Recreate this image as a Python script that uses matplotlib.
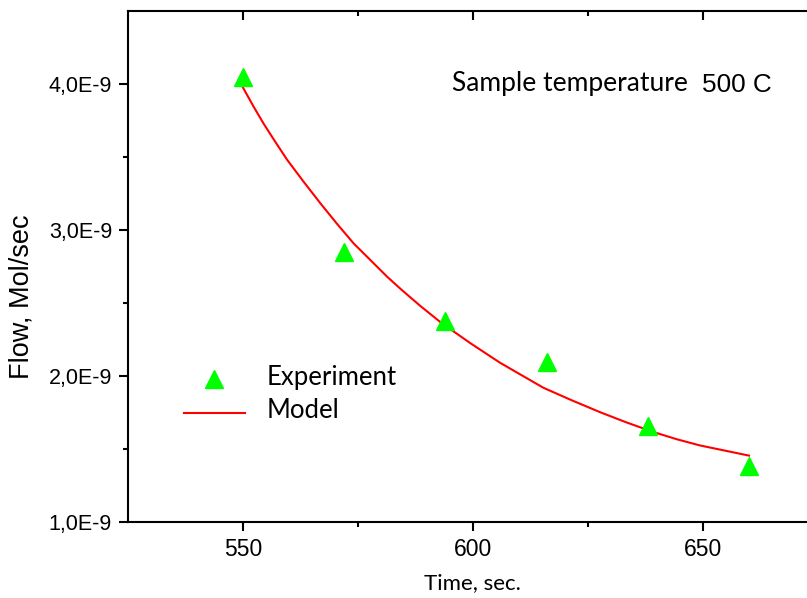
import matplotlib
matplotlib.use("Agg")
import matplotlib.pyplot as plt
from matplotlib.ticker import FixedLocator, FuncFormatter

# experiment points (time in sec, flow in 1e-9 mol/sec)
exp_time = [550, 572, 594, 616, 638, 660]
exp_flow = [4.05, 2.85, 2.375, 2.095, 1.655, 1.385]

# model curve
model_time = [550, 552.3, 554.5, 556.7, 559.6, 563.2, 566.8, 570.4, 574.0,
              577.7, 581.3, 584.2, 588.5, 592.9, 599.4, 605.9, 615.3, 621.4,
              627.6, 633.4, 639.2, 644.2, 649.3, 660]
model_flow = [3.977, 3.847, 3.729, 3.621, 3.482, 3.331, 3.185, 3.045, 2.911,
              2.795, 2.682, 2.599, 2.482, 2.370, 2.226, 2.091, 1.92, 1.835,
              1.753, 1.682, 1.617, 1.568, 1.525, 1.455]

x_ticks = [550, 600, 650]
y_ticks = [1.0, 2.0, 3.0, 4.0]

W, H = 807, 598
fig = plt.figure(figsize=(W / 100, H / 100), dpi=100)
# right spine sits just past the picture edge, as in the original
ax = fig.add_axes([128 / W, 1 - 522 / H, (818 - 128) / W, (522 - 11.3) / H])

ax.plot(model_time, model_flow, color="#ff0000", lw=1.5)
ax.plot(exp_time, exp_flow, ls="none", marker="^", ms=13,
        color="#00ff00", mec="#00ff00")

ax.set_xlim(525, 675)
ax.set_ylim(1.0, 4.5)
for s in ax.spines.values():
    s.set_linewidth(1.5)

ax.xaxis.set_major_locator(FixedLocator(x_ticks))
ax.xaxis.set_minor_locator(FixedLocator([575, 625]))
ax.yaxis.set_major_locator(FixedLocator(y_ticks))
ax.yaxis.set_minor_locator(FixedLocator([1.5, 2.5, 3.5]))
ax.yaxis.set_major_formatter(FuncFormatter(lambda v, p: f"{v:.1f}".replace(".", ",") + "E-9"))

ax.tick_params(which="major", direction="out", length=6.5, width=1.5, pad=5)
ax.tick_params(which="minor", direction="out", length=3.5, width=1.5)
ax.tick_params(axis="x", which="major", labelsize=16.5)
ax.tick_params(axis="y", which="major", labelsize=15.5)
ax.tick_params(axis="x", which="both", top=True)
ax.tick_params(axis="y", which="both", right=True)
for t in ax.get_xticklabels() + ax.get_yticklabels():
    t.set_fontfamily("Liberation Sans")

# top/right ticks point inward
for tl in ax.xaxis.get_ticklines(minor=False)[1::2] + ax.xaxis.get_ticklines(minor=True)[1::2]:
    tl.set_marker(3)
for tl in ax.yaxis.get_ticklines(minor=False)[1::2] + ax.yaxis.get_ticklines(minor=True)[1::2]:
    tl.set_marker(0)

fig.text(22 / W, 1 - 297 / H, "Flow, Mol/sec", rotation=90, ha="center", va="center",
         fontsize=19.5, family="Liberation Sans")
fig.text(472 / W, 1 - 583 / H, "Time, sec.", ha="center", va="center",
         fontsize=16, family="Lato")

fig.text(452 / W, 1 - 83 / H, "Sample temperature", ha="left", va="center",
         fontsize=19, family="Lato")
fig.text(702 / W, 1 - 85 / H, "500 C", ha="left", va="center",
         fontsize=18.8, family="Liberation Sans")

# legend drawn by hand in figure coordinates
fig.lines.append(plt.Line2D([214 / W], [1 - 379 / H], transform=fig.transFigure,
                            ls="none", marker="^", ms=12.5, color="#00ff00"))
fig.lines.append(plt.Line2D([184 / W, 245 / W], [1 - 413 / H, 1 - 413 / H],
                            transform=fig.transFigure, color="#ff0000", lw=1.5))
fig.text(267 / W, 1 - 378 / H, "Experiment", ha="left", va="center",
         fontsize=18.5, family="Lato")
fig.text(267 / W, 1 - 411 / H, "Model", ha="left", va="center",
         fontsize=18.5, family="Lato")

fig.savefig("out.png", dpi=100)
